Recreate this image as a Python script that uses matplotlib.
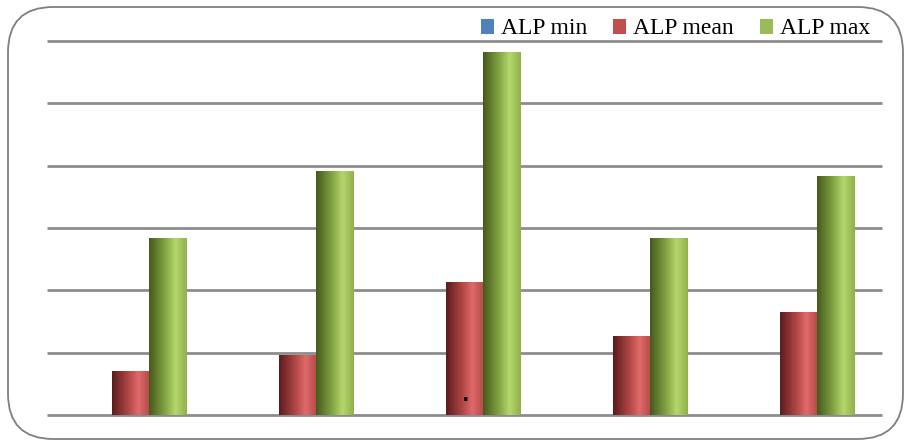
import numpy as np
import matplotlib
matplotlib.use("Agg")
import matplotlib.pyplot as plt
from matplotlib.colors import LinearSegmentedColormap
from matplotlib.patches import FancyBboxPatch

# Data
groups = ["1", "2", "3", "4", "5"]
series_names = ["ALP min", "ALP mean", "ALP max"]
alp_min = [0, 0, 0, 0, 0]
alp_mean = [35, 48, 107, 63, 83]
alp_max = [142, 196, 291, 142, 192]

base_colors = ["#4f81bd", "#c0504d", "#9bbb59"]
shade_stops = [
    ["#2c4a70", "#5b8fd0", "#7fa8dd", "#4a75ae"],
    ["#5a1c1c", "#b54848", "#e06a6a", "#b24a48"],
    ["#46591c", "#86a846", "#b6d76c", "#8fb04b"],
]

W, H = 907, 446
fig = plt.figure(figsize=(W / 100, H / 100), dpi=100)
fig.patch.set_facecolor("white")

# rounded outer frame
frame = FancyBboxPatch((8 / W, 7 / H), (W - 12) / W, (H - 14) / H,
                       boxstyle="round,pad=0,rounding_size=0.05",
                       transform=fig.transFigure, facecolor="none",
                       edgecolor="#7f7f7f", linewidth=1.3, mutation_aspect=W / H)
fig.patches.append(frame)

ax = fig.add_axes([47 / W, 1 - 415 / H, (882 - 47) / W, (415 - 41) / H])
ax.set_ylim(0, 300)
ax.set_yticks(np.arange(0, 301, 50))
ax.yaxis.grid(True, color="#8c8c8c", linewidth=2.0, solid_capstyle="butt")
for gl in ax.get_ygridlines():
    gl.set_clip_on(False)
ax.set_axisbelow(True)
for s in ax.spines.values():
    s.set_visible(False)
ax.tick_params(left=False, bottom=False, labelleft=False, labelbottom=False)

x = np.arange(len(groups))
bw = 0.222
values = [alp_min, alp_mean, alp_max]
grad = np.linspace(0, 1, 256).reshape(1, -1)
handles = []
for i, (vals, name) in enumerate(zip(values, series_names)):
    bars = ax.bar(x + (i - 1) * bw, vals, width=bw, color=base_colors[i],
                  label=name, zorder=3, linewidth=0)
    handles.append(bars)
    cmap = LinearSegmentedColormap.from_list(
        f"shade{i}", list(zip([0, 0.45, 0.7, 1.0], shade_stops[i])))
    for b in bars:
        if b.get_height() <= 0:
            continue
        x0, y0 = b.get_x(), b.get_y()
        im = ax.imshow(grad, cmap=cmap, aspect="auto", zorder=4,
                       extent=[x0, x0 + b.get_width(), y0, y0 + b.get_height()],
                       interpolation="bicubic")
        im.set_clip_path(b)
ax.set_xlim(-0.5, len(groups) - 0.5)
ax.set_ylim(0, 300)

ax.text(2 + bw * 0.02, 8, ".", fontsize=14, ha="center", va="bottom",
        color="black", zorder=6, fontweight="bold")

leg = fig.legend(handles=handles, labels=series_names, loc="center right",
                 bbox_to_anchor=(870 / W, 1 - 29 / H), ncol=3, frameon=False,
                 prop={"family": "Liberation Serif", "size": 17},
                 handlelength=0.55, handleheight=0.6, handletextpad=0.3,
                 columnspacing=1.1, borderaxespad=0, borderpad=0)

fig.savefig("out.png", dpi=100, facecolor="white")
